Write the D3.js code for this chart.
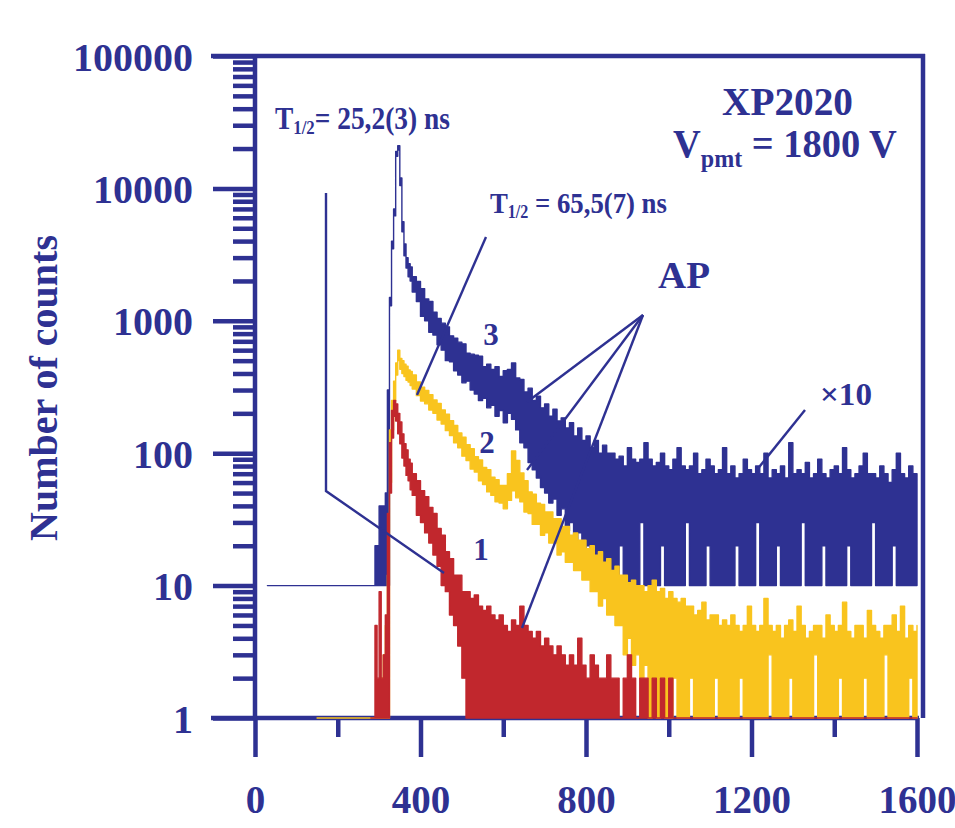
<!DOCTYPE html>
<html>
<head>
<meta charset="utf-8">
<script src="https://d3js.org/d3.v7.min.js"></script>
<style>
  body { margin: 0; background: #fff; }
  text { font-family: "Liberation Serif", "Times New Roman", serif; font-weight: bold; fill: #2e3192; white-space: pre; }
</style>
</head>
<body>
<div id="chart"></div>
<script>
// channel time (ns), lowest and highest count seen around that channel
// curve 3 is plotted x10
var blueCounts = [
  [30,1,1],[150,1,1],[280,1,1],[290,1,2],[295,1,2],[300,1,4],[305,1,4],[310,1,4],[315,1,5],
  [320,1,30],[325,130,150],[330,350,400],[335,620,700],[340,1750,1900],[345,1950,2100],
  [350,1050,1200],[355,470,560],[360,310,380],[365,250,300],[370,215,270],[375,200,255],[380,165,215],
  [390,140,198],[400,108,175],[410,100,146],[420,82,140],[430,78,116],[440,66,104],[450,60,96],
  [460,50,90],[470,49,77],[480,42,74],[490,39,69],[500,34,67],[510,35,57],[520,30,56],[530,28,55],
  [540,25,54],[550,26,45],[560,22,47],[570,23,43],[580,19,45],[590,21,38],[600,17,42],[610,20,43],
  [620,18,48],[630,15,37],[640,12,36],[650,11,29],[660,8.5,31],[670,7.5,25],[680,6.5,27],[690,5.5,22],
  [700,5,23.5],[710,4.2,19],[720,4.5,21.5],[730,3.4,17.5],[740,3.8,18.5],[750,2.6,15.5],[760,3,17],
  [770,2.2,13.5],[780,2.5,15.5],[790,1.8,12.5],[800,2,13.5],[810,1.3,11],[820,1.7,12.5],[830,1,10],
  [840,1.3,11.5],[850,1,10],
  [860,1,10],[870,1,9],[880,2,9.5],[890,1,8],[900,1,11],[910,1,9],[920,1,8.5],[930,3,9],[940,1,12],
  [950,1,9],[960,1,8],[970,1,8.5],[980,2,10],[990,1,8],[1000,1,7.5],[1010,1,9],[1020,1,11],
  [1030,1,8],[1040,3,7.5],[1050,1,8],[1060,1,10],[1070,1,7],[1080,1,7.5],[1090,2,9],[1100,1,8],
  [1110,1,7],[1120,1,7.5],[1130,1,11],[1140,1,7],[1150,1,8],[1160,2,6.5],[1170,1,7],[1180,1,9],
  [1190,1,7.5],[1200,1,7],[1210,3,8],[1220,1,7],[1230,1,10],[1240,1,6.5],[1250,1,7.5],[1260,2,7],
  [1270,1,8],[1280,1,6.5],[1290,1,12],[1300,1,7],[1310,1,7.5],[1320,3,7],[1330,1,8.5],[1340,1,6.5],
  [1350,1,7],[1360,1,9],[1370,2,7],[1380,1,6.5],[1390,1,7.5],[1400,1,8],[1410,1,7],[1420,1,11],
  [1430,2,7.5],[1440,1,6.5],[1450,1,7],[1460,1,8],[1470,1,10],[1480,1,7],[1490,3,7],[1500,1,6.5],
  [1510,1,8],[1520,1,7],[1530,1,6],[1540,2,7.5],[1550,1,10],[1560,1,7],[1570,1,6.5],[1580,1,8],
  [1590,1,7],[1600,1,7]
];

var yellowCounts = [
  [150,1,1],[280,1,1],[290,1,1],[295,1,1],[300,1,1],[305,1,2],[310,1,3],[315,1,5],[320,1,12],
  [325,60,150],[330,150,250],[335,250,350],[340,390,480],[345,500,600],[350,430,520],[355,400,500],
  [360,380,470],[365,355,455],[370,345,425],[375,325,415],[380,305,390],
  [390,272,345],[400,248,315],[410,236,298],[420,212,276],[430,200,252],[440,178,238],[450,166,212],
  [460,148,197],[470,136,176],[480,120,162],[490,110,142],[500,95,132],[510,88,116],[520,76,108],
  [530,72,94],[540,62,89],[550,58,78],[560,51,75],[570,48,66],[580,43,63],[590,42,57],[600,38,57],
  [610,44,70],[620,52,104],[630,46,88],[640,43,71],[650,36,62],[660,35,51],[670,29,49],[680,29,42],
  [690,24,41],[700,25,36],[710,21,36],[720,21,32],[730,17,32],[740,18,28],[750,15,28],[760,15,24],
  [770,13,25],[780,13,22],[790,11,22],[800,11,19],[810,9,20],[820,9,17],[830,7,18],[840,8,15],
  [850,6,16],[860,6,13],[870,5,14],[880,5,12],[890,3,12],[900,4,10.5],[910,2.5,11],[920,3,10],
  [930,2,10],[940,2.5,9],[950,1,10],[960,2,11],[970,1,9],[980,2,9.5],[990,1,8],[1000,1,9],
  [1010,2,8],[1020,1,7.5],[1030,1,8],[1040,1,7],[1050,2,7],[1060,1,6],[1070,1,6.5],[1080,1,7.5],
  [1090,1,5.5],[1100,1,6],[1110,2,6],[1120,1,5],[1130,1,5.5],[1140,1,5],[1150,1,6],[1160,1,5],
  [1170,2,4.5],[1180,1,5],[1190,1,7],[1200,1,5],[1210,1,4.5],[1220,1,5],[1230,1,8],[1240,3,5],
  [1250,1,4.5],[1260,1,5],[1270,1,4],[1280,1,5],[1290,2,5.5],[1300,1,4.5],[1310,1,7],[1320,1,5],
  [1330,1,4],[1340,1,4.5],[1350,3,5],[1360,1,5],[1370,1,4],[1380,1,6],[1390,1,5],[1400,1,4.5],
  [1410,2,5],[1420,1,7.5],[1430,1,4.5],[1440,1,4],[1450,1,5],[1460,1,5],[1470,2,4],[1480,1,6.5],
  [1490,1,5],[1500,1,4.5],[1510,1,4],[1520,3,5],[1530,1,5],[1540,1,6],[1550,1,4.5],[1560,1,7],
  [1570,1,4],[1580,2,5],[1590,1,4.5],[1600,1,5]
];

var redCounts = [
  [280,1,1],[290,1,5],[295,1,2],[300,1,9],[305,1,2],[310,1,3],[315,1,6],[320,1,35],
  [325,50,120],[330,130,210],[335,190,250],[340,175,235],[345,140,200],[350,118,172],[355,92,140],
  [360,80,118],[365,68,106],[370,62,90],[375,53,84],[380,48,70],
  [390,34,62],[400,30,52],[410,25,47],[420,21,39],[430,17,35],[440,14,27],[450,10,24],[460,9,18],
  [470,6,16],[480,5,12],[490,3.5,12],[500,2,9],[510,1,9],[520,1,8],[530,1,8.5],[540,1,7],[550,1,6.5],
  [560,1,7],[570,1,6],[580,1,5.5],[590,1,6],[600,1,5],[610,1,4.5],[620,1,5.5],[630,1,5],[640,1,7],
  [650,1,5],[660,1,4.5],[670,1,4],[680,1,4.5],[690,1,3.5],[700,1,4],[710,1,3.5],[720,1,3],
  [730,1,3.5],[740,1,3],[750,1,2.5],[760,1,3],[770,1,2.5],[780,1,4],[790,1,2.5],[800,1,2],
  [810,1,3],[820,1,2.5],[830,1,2],[840,1,2],[850,1,3],[860,1,2],[870,1,2],[880,1,1],[890,1,2],
  [900,1,3],[910,1,2],[920,1,1],[930,1,2],[940,1,2],[950,1,1],[960,1,2],[970,1,1],[980,1,2],
  [990,1,1],[1000,1,2],[1010,1,1],[1020,1,1],[1600,1,1]
];

var xTicks = [0, 400, 800, 1200, 1600];
var xMinorTicks = [200, 600, 1000, 1400];
var yTicks = [1, 10, 100, 1000, 10000, 100000];
var blueFactor = 10;

var navy = "#2e3192";
var red = "#c1272d";
var yellow = "#f9c41e";

var width = 955, height = 828;

var svg = d3.select("#chart").append("svg")
    .attr("width", width)
    .attr("height", height);

var x = d3.scaleLinear().domain([0, 1600]).range([255, 917]);
var y = d3.scaleLog().domain([1, 100000]).range([718, 56]);

var yMinor = [];
yTicks.slice(0, -1).forEach(function(d) {
  for (var k = 2; k < 10; k++) yMinor.push(d * k);
});

// axes
function styleAxis(g) {
  g.select(".domain").remove();
  g.selectAll("line").attr("stroke", navy).attr("stroke-width", 4.5);
  g.attr("font-family", null).attr("font-size", null);
}

svg.append("g")
    .attr("transform", "translate(255,0)")
    .call(d3.axisLeft(y).tickValues(yMinor).tickSize(22).tickFormat(""))
    .call(styleAxis);

svg.append("g")
    .attr("transform", "translate(255,0)")
    .call(d3.axisLeft(y).tickValues(yTicks).tickSize(42).tickPadding(20).tickFormat(d3.format("d")))
    .call(styleAxis)
    .selectAll("text")
    .attr("font-size", 40)
    .attr("dy", "0.35em");

svg.append("g")
    .attr("transform", "translate(0,718)")
    .call(d3.axisBottom(x).tickValues(xMinorTicks).tickSize(19).tickFormat(""))
    .call(styleAxis);

svg.append("g")
    .attr("transform", "translate(0,718)")
    .call(d3.axisBottom(x).tickValues(xTicks).tickSize(39).tickPadding(28).tickFormat(d3.format("d")))
    .call(styleAxis)
    .selectAll("text")
    .attr("font-size", 39);

// frame
var frame = [
  [[211, 56], [925, 56]],
  [[923, 54], [923, 718]],
  [[211, 718], [919, 718]],
  [[255, 54], [255, 720]]
];
svg.append("g").selectAll("line")
    .data(frame)
    .enter().append("line")
    .attr("x1", function(d) { return d[0][0]; })
    .attr("y1", function(d) { return d[0][1]; })
    .attr("x2", function(d) { return d[1][0]; })
    .attr("y2", function(d) { return d[1][1]; })
    .attr("stroke", navy)
    .attr("stroke-width", 4.5);

// spectra, drawn as histogram bands
function drawSpectrum(data, color, factor) {
  var band = d3.area()
      .curve(d3.curveStepAfter)
      .x(function(d) { return x(d[0]); })
      .y0(function(d) { return y(d[1] * factor); })
      .y1(function(d) { return y(d[2] * factor); });
  svg.append("path")
      .datum(data)
      .attr("d", band)
      .attr("fill", color)
      .attr("stroke", color)
      .attr("stroke-width", 1.4)
      .attr("stroke-linejoin", "round");
}

drawSpectrum(blueCounts, navy, blueFactor);
drawSpectrum(yellowCounts, yellow, 1);
drawSpectrum(redCounts, red, 1);

// leader lines, in data units (ns, counts)
var leaders = [
  [[171.6, 9230], [171.6, 51.8], [456.8, 12.45]],
  [[558.3, 4295], [391.5, 275]],
  [[937.8, 1106], [657.4, 243.6]],
  [[937.8, 1106], [657.4, 74.7]],
  [[937.8, 1106], [645.3, 4.78]],
  [[1329.3, 212], [1210.9, 73.4]]
];
var leaderLine = d3.line()
    .x(function(d) { return x(d[0]); })
    .y(function(d) { return y(d[1]); });
svg.append("g").selectAll("path")
    .data(leaders)
    .enter().append("path")
    .attr("d", leaderLine)
    .attr("fill", "none")
    .attr("stroke", navy)
    .attr("stroke-width", 2.4);

// labels
function addLabel(px, py, parts, fitWidth, anchor) {
  var g = svg.append("g").attr("transform", "translate(" + px + "," + py + ")");
  var t = g.append("text").attr("text-anchor", anchor || "start");
  parts.forEach(function(p) {
    t.append("tspan")
        .attr("font-size", p.size)
        .attr("dy", p.dy || 0)
        .text(p.text);
  });
  if (fitWidth) {
    var w = t.node().getBBox().width;
    g.attr("transform", "translate(" + px + "," + py + ") scale(" + (fitWidth / w) + ",1)");
  }
}

addLabel(275, 129, [{text: "T", size: 31}, {text: "1/2", size: 19, dy: 5}, {text: "= 25,2(3) ns", size: 31, dy: -5}], 175);
addLabel(490, 213, [{text: "T", size: 30}, {text: "1/2", size: 18, dy: 5}, {text: " = 65,5(7) ns", size: 30, dy: -5}], 177);
addLabel(787.5, 115, [{text: "XP2020", size: 40}], 131, "middle");
addLabel(673, 157, [{text: "V", size: 40}, {text: "pmt", size: 25, dy: 10}, {text: " = 1800 V", size: 40, dy: -10}], 224);
addLabel(658, 288, [{text: "AP", size: 38}], 52);
addLabel(820, 405, [{text: "\u00d710", size: 32}], 52);
addLabel(491, 345, [{text: "3", size: 31}], null, "middle");
addLabel(487, 453, [{text: "2", size: 31}], null, "middle");
addLabel(481, 560, [{text: "1", size: 31}], null, "middle");

svg.append("text")
    .attr("transform", "translate(57,388) rotate(-90)")
    .attr("text-anchor", "middle")
    .attr("font-size", 40)
    .text("Number of counts");
</script>
</body>
</html>
